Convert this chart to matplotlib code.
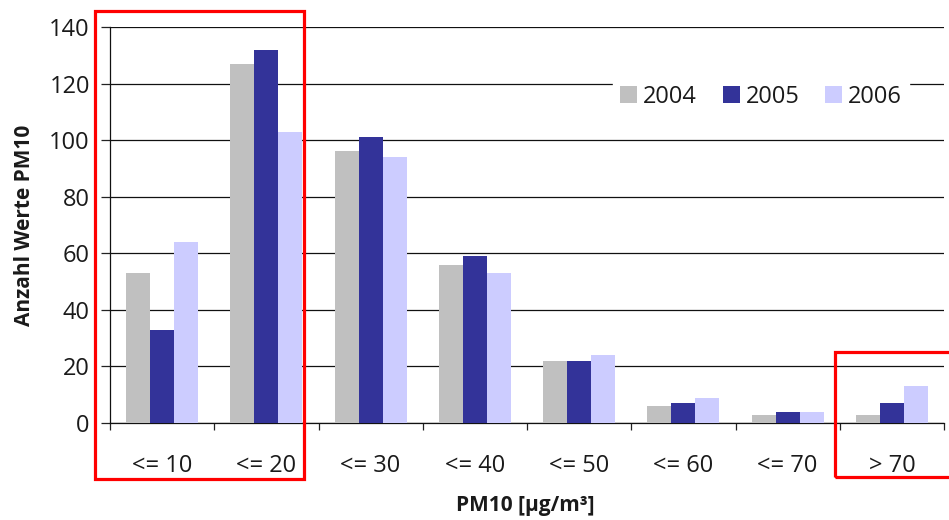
import matplotlib
matplotlib.use("Agg")
import matplotlib.pyplot as plt
import numpy as np
from matplotlib.patches import Rectangle

# ---- data ----
categories = ["<= 10", "<= 20", "<= 30", "<= 40", "<= 50", "<= 60", "<= 70", "> 70"]
years = ["2004", "2005", "2006"]
v2004 = [53, 127, 96, 56, 22, 6, 3, 3]
v2005 = [33, 132, 101, 59, 22, 7, 4, 7]
v2006 = [64, 103, 94, 53, 24, 9, 4, 13]
yticks = [0, 20, 40, 60, 80, 100, 120, 140]

colors = ["#C0C0C0", "#333399", "#CCCCFF"]
txt = "#1a1a1a"

plt.rcParams['font.family'] = ['Open Sans', 'DejaVu Sans']

W, H = 949, 520
fig = plt.figure(figsize=(W / 100, H / 100), dpi=100)
ax = fig.add_axes([110 / W, 1 - 423 / H, (944 - 110) / W, (423 - 27) / H])

x = np.arange(len(categories))
bw = 0.23
series = [v2004, v2005, v2006]
for i, (vals, c, lab) in enumerate(zip(series, colors, years)):
    ax.bar(x + (i - 1) * bw, vals, width=bw, color=c, label=lab, zorder=3, linewidth=0)

ax.set_xlim(-0.5, len(categories) - 0.5)
ax.set_ylim(0, 140)
ax.set_yticks(yticks)
ax.set_yticklabels([str(t) for t in yticks], fontsize=17, color=txt)
ax.yaxis.grid(True, color="#111111", linewidth=0.9, zorder=0)
ax.set_axisbelow(True)

# x: boundary ticks (major, no labels), labels at centres (minor, no tick marks)
ax.set_xticks(np.arange(len(categories) + 1) - 0.5)
ax.set_xticklabels([])
ax.set_xticks(x, minor=True)
ax.set_xticklabels(categories, minor=True, fontsize=17, color=txt)
ax.tick_params(axis='x', which='major', length=5, width=0.9, direction='out', color='#222')
ax.tick_params(axis='x', which='minor', length=0, pad=22)
ax.tick_params(axis='y', length=6.5, width=0.9, direction='out', pad=8, color='#222')

for s in ['top', 'right']:
    ax.spines[s].set_visible(False)
for s in ['left', 'bottom']:
    ax.spines[s].set_color('#111111')
    ax.spines[s].set_linewidth(0.9)

ax.set_ylabel("Anzahl Werte PM10", fontsize=15, fontweight='bold', color=txt)
ax.yaxis.label.set_va('center')
ax.yaxis.set_label_coords(-(110 - 25) / (944 - 110), 0.5)
ax.set_xlabel("PM10 [µg/m³]", fontsize=15, fontweight='bold', color=txt)
ax.xaxis.label.set_va('center')
ax.xaxis.set_label_coords((525 - 110) / (944 - 110), -(505 - 423) / (423 - 27))

leg = ax.legend(loc='center', bbox_to_anchor=((761 - 110) / 834, (423 - 97) / 396),
                ncol=3, fontsize=17, frameon=True, fancybox=False,
                handlelength=0.72, handleheight=0.72, handletextpad=0.25,
                columnspacing=1.1, borderpad=0.3, borderaxespad=0)
leg.get_frame().set_facecolor('white')
leg.get_frame().set_edgecolor('white')
leg.get_frame().set_alpha(1)
for t in leg.get_texts():
    t.set_color(txt)

# red highlight rectangles (annotation overlay)
def frame(x0, y0, x1, y1):
    fig.patches.append(Rectangle((x0 / W, 1 - y1 / H), (x1 - x0) / W, (y1 - y0) / H,
                                 transform=fig.transFigure, fill=False,
                                 edgecolor='#FF0000', linewidth=2.3, zorder=10))

frame(94.5, 11, 304, 479)
frame(834.5, 351.5, 980, 477)

fig.savefig("out.png", dpi=100)
